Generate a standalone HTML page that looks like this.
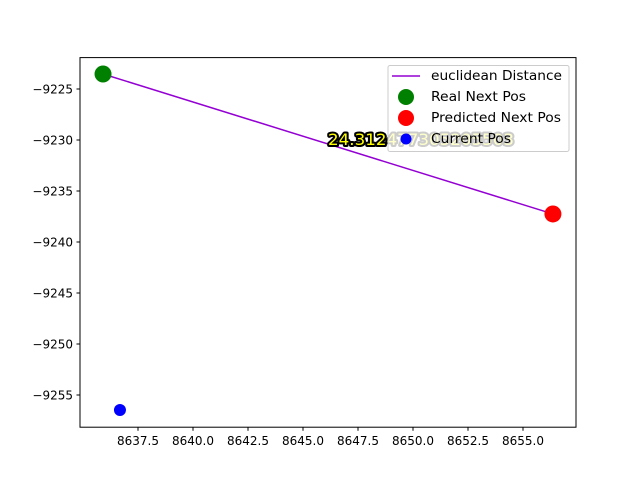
<!DOCTYPE html>
<html><head><meta charset="utf-8"><style>body{margin:0;background:#fff}svg{display:block;font-family:"DejaVu Sans","Liberation Sans",sans-serif}</style></head>
<body>
<svg id="c" width="640" height="480"></svg>
<script>
const xTicks=[8637.5,8640,8642.5,8645,8647.5,8650,8652.5,8655];
const yTicks=[-9225,-9230,-9235,-9240,-9245,-9250,-9255];
const realPos=[8635.91,-9223.53];
const predPos=[8656.36,-9237.25];
const curPos=[8636.68,-9256.47];
const distLabel="24.312477305205503";
const X=v=>138+(v-8637.5)*22;
const Y=v=>89-(v+9225)*10.2;
const s=document.getElementById('c');const NS='http://www.w3.org/2000/svg';
function el(t,a,p){const e=document.createElementNS(NS,t);for(const k in a)e.setAttribute(k,a[k]);(p||s).appendChild(e);return e;}
let e;
e=el('rect',{x:80,y:57.6,width:496,height:369.6,fill:'none',stroke:'#000','stroke-width':1});


xTicks.forEach(v=>{
 e=el('line',{x1:X(v),x2:X(v),y1:427.2,y2:430.7,stroke:'#000'});
 
 
 e=el('text',{x:X(v),y:445,'font-size':'12','text-anchor':'middle'});e.textContent=v.toFixed(1);
 
 
});
yTicks.forEach(v=>{
 e=el('line',{x1:76.5,x2:80,y1:Y(v),y2:Y(v),stroke:'#000'});
 
 
 e=el('text',{x:73,y:Y(v)+4.5,'font-size':'12','text-anchor':'end'});e.textContent='\u2212'+Math.abs(v);
 
 
});
e=el('line',{x1:X(realPos[0]),y1:Y(realPos[1]),x2:X(predPos[0]),y2:Y(predPos[1]),stroke:'#9400d3','stroke-width':1.5});


e=el('circle',{cx:X(realPos[0]),cy:Y(realPos[1]),r:8.5,fill:'#008000'});


e=el('circle',{cx:X(predPos[0]),cy:Y(predPos[1]),r:8.5,fill:'#ff0000'});


e=el('circle',{cx:X(curPos[0]),cy:Y(curPos[1]),r:6,fill:'#0000ff'});


e=el('text',{x:328,y:145,'font-size':'16',textLength:186,lengthAdjust:'spacingAndGlyphs',fill:'#ffff00',stroke:'#000','stroke-width':4,'paint-order':'stroke','stroke-linejoin':'round'});e.textContent=distLabel;


const g=el('g',{});


el('rect',{x:388,y:65.5,width:181,height:86,rx:2,fill:'#fff','fill-opacity':0.8,stroke:'#ccc'},g);
el('line',{x1:392,x2:420,y1:76,y2:76,stroke:'#9400d3','stroke-width':1.5},g);
el('circle',{cx:406,cy:97,r:8,fill:'#008000'},g);
el('circle',{cx:406,cy:118,r:8,fill:'#ff0000'},g);
el('circle',{cx:406,cy:139,r:5.5,fill:'#0000ff'},g);
[['euclidean Distance',80,131],['Real Next Pos',101,95],['Predicted Next Pos',122,130],['Current Pos',143,80]].forEach(([t,y,w])=>{
 const tx=el('text',{x:431,y:y,'font-size':'13',textLength:w,lengthAdjust:'spacingAndGlyphs'},g);tx.textContent=t;
 
 
});
</script>
</body></html>
